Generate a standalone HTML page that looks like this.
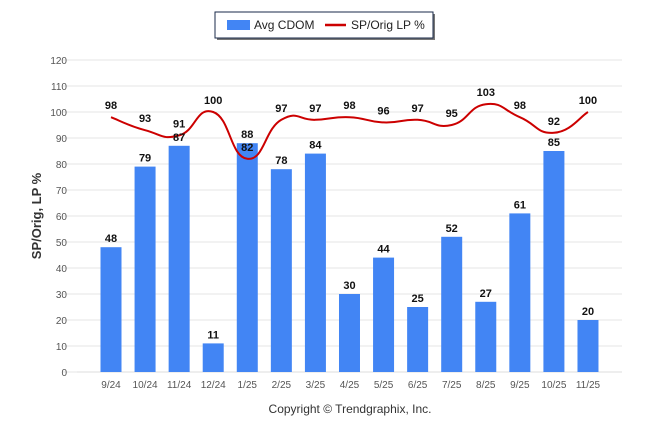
<!DOCTYPE html>
<html><head><meta charset="utf-8"><style>
body{margin:0;background:#fff;font-family:"Liberation Sans",sans-serif}
</style></head><body>
<svg id="c" width="646" height="434" xmlns="http://www.w3.org/2000/svg" style="font-family:'Liberation Sans',sans-serif">
<g>
<rect x="217" y="14" width="218" height="26" fill="#777"/>
<rect x="215" y="12" width="218" height="26" fill="#fff" stroke="#1a2a4a" stroke-width="1"/>
<rect x="227" y="20" width="23" height="10" fill="#4285f4"/>
<text x="254" y="29" font-size="12" fill="#222">Avg CDOM</text>
<line x1="325" y1="25" x2="346" y2="25" stroke="#c00" stroke-width="2.5"/>
<text x="351" y="29" font-size="12" fill="#222">SP/Orig LP %</text>
</g>
<text transform="translate(41,216) rotate(-90)" text-anchor="middle" font-size="13" font-weight="bold" fill="#333">SP/Orig, LP %</text>
<text x="350" y="413" text-anchor="middle" font-size="12" fill="#333">Copyright © Trendgraphix, Inc.</text>
<g id="grid"></g><g id="bars"></g><g id="line"></g><g id="labels"></g>
</svg>
<script>
const categories=["9/24","10/24","11/24","12/24","1/25","2/25","3/25","4/25","5/25","6/25","7/25","8/25","9/25","10/25","11/25"];
const cdom=[48,79,87,11,88,78,84,30,44,25,52,27,61,85,20];
const spOrig=[98,93,91,100,82,97,97,98,96,97,95,103,98,92,100];
const yTicks=[0,10,20,30,40,50,60,70,80,90,100,110,120];
const NS="http://www.w3.org/2000/svg";
const L=77,R=622,T=60,B=372,yMax=120;
const slot=34.07;
const xs=i=>111+slot*i;
const ys=v=>B-(v/yMax)*(B-T);
function mk(t,a,p){const e=document.createElementNS(NS,t);for(const k in a)e.setAttribute(k,a[k]);p.appendChild(e);return e;}
const grid=document.getElementById('grid'),bars=document.getElementById('bars'),line=document.getElementById('line'),labels=document.getElementById('labels');
yTicks.forEach(v=>{
 const g=mk('line',{x1:L-15,x2:R,y1:ys(v),y2:ys(v),stroke:'#e6e6e6','stroke-width':1},grid);
 
 
 const t=mk('text',{x:L-10,y:ys(v)+4,'text-anchor':'end','font-size':10,fill:'#555'},grid);t.textContent=v;
 
 
});
categories.forEach((c,i)=>{
 const t=mk('text',{x:xs(i),y:388,'text-anchor':'middle','font-size':10,fill:'#555'},grid);t.textContent=c;
 
 
 const h=B-ys(cdom[i]);
 const b=mk('rect',{x:xs(i)-10.5,y:ys(cdom[i]),width:21,height:h,fill:'#4285f4'},bars);
 
 
 const bl=mk('text',{x:xs(i),y:ys(cdom[i])-5,'text-anchor':'middle','font-size':11,'font-weight':'bold',fill:'#111'},labels);bl.textContent=cdom[i];
 
 
 const ll=mk('text',{x:xs(i),y:ys(spOrig[i])-8,'text-anchor':'middle','font-size':11,'font-weight':'bold',fill:'#111'},labels);ll.textContent=spOrig[i];
 
 
});
mk('line',{x1:L,x2:R,y1:B,y2:B,stroke:'#ddd'},grid);
const P=spOrig.map((v,i)=>[xs(i),ys(v)]);
let d='M'+P[0][0]+','+P[0][1];
for(let i=0;i<P.length-1;i++){
 const p0=P[Math.max(0,i-1)],p1=P[i],p2=P[i+1],p3=P[Math.min(P.length-1,i+2)];
 const k=0.25;
 const c1=[p1[0]+(p2[0]-p0[0])*k,p1[1]+(p2[1]-p0[1])*k];
 const c2=[p2[0]-(p3[0]-p1[0])*k,p2[1]-(p3[1]-p1[1])*k];
 d+=' C'+c1[0]+','+c1[1]+' '+c2[0]+','+c2[1]+' '+p2[0]+','+p2[1];
}
const ln=mk('path',{d:d,fill:'none',stroke:'#c00','stroke-width':2},line);


</script>
</body></html>
